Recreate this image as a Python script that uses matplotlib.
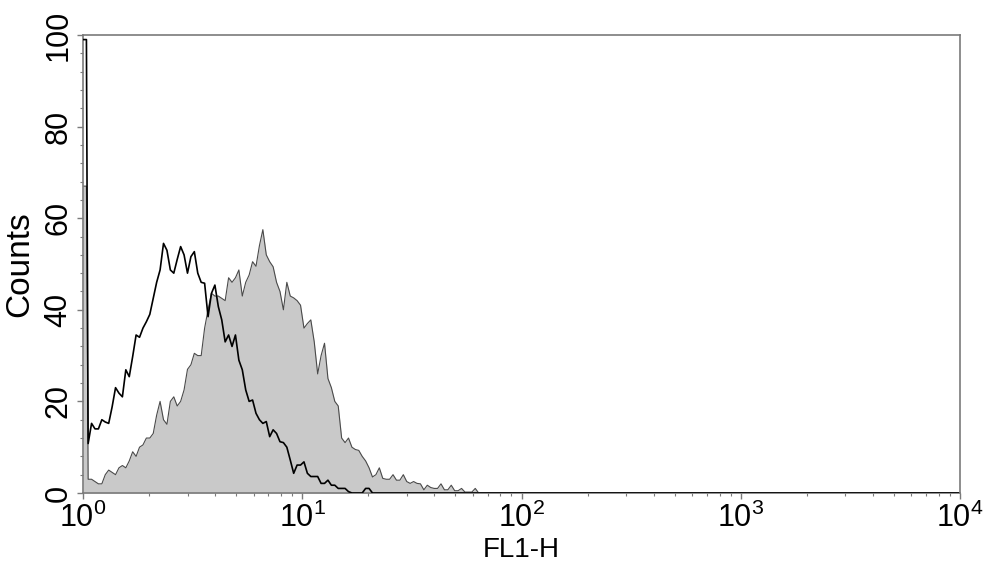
import numpy as np
import matplotlib
matplotlib.use("Agg")
import matplotlib.pyplot as plt
from matplotlib.ticker import FixedLocator, MultipleLocator, LogLocator, NullFormatter

plt.rcParams['font.family'] = ['Liberation Sans', 'DejaVu Sans']
plt.rcParams['mathtext.fontset'] = 'custom'
plt.rcParams['mathtext.rm'] = 'Liberation Sans'
plt.rcParams['mathtext.it'] = 'Liberation Sans'
plt.rcParams['mathtext.bf'] = 'Liberation Sans'

# 256 log channels over 4 decades (FL1-H 10^0 .. 10^4)
n_channels = 256
x_min, x_max = 1, 10000

# Stained sample (gray filled histogram), counts per channel starting at channel 0
stained_counts = [
    67, 3, 3, 2.5, 2, 2, 4, 5, 4.5, 4,
    5.5, 6, 5.5, 7, 9, 8, 10, 10.5, 12, 12,
    13, 17, 20, 16, 15, 20, 21, 19, 20, 22.5,
    27, 28, 30.5, 30, 30, 36, 40, 43.6, 43, 43,
    42.5, 42, 47, 46, 47, 48.7, 43, 46, 47.6, 50.5,
    49.5, 54, 57.5, 52, 50.5, 49.4, 46, 44, 40, 46,
    43, 42.6, 42, 41, 36, 37, 37.8, 33, 26, 30,
    32.7, 25, 23, 20, 19, 12, 11, 12, 10, 9.5,
    9.3, 8, 7, 5.5, 3.5, 4, 5.5, 3.2, 3, 3,
    4, 2.8, 2.8, 4, 2.5, 2.1, 2.5, 2.1, 2, 0.7,
    1.7, 1.2, 1, 1, 2, 0.7, 0.7, 1.7, 0.5, 0.5,
    1, 0.2, 0.2, 0.2, 1, 0,
]

# Control sample (black open histogram)
control_counts = [
    99, 10.8, 15.2, 14, 14, 16, 15.5, 15.2, 18.8, 23,
    21.8, 21, 26.9, 25.4, 29.8, 34.5, 34, 36, 37.4, 39,
    42.5, 46, 48.7, 54.5, 53, 48.7, 48, 51, 53.8, 52,
    48, 51.6, 52.7, 48, 46, 45.8, 38.5, 43.6, 45.4, 40.7,
    37.8, 33, 34.5, 32, 34.5, 29, 26.9, 22.5, 20, 20.3,
    17.4, 16, 15.2, 15.6, 12.3, 13.8, 13, 11.2, 11, 10,
    7.2, 4.3, 6.1, 6.1, 6.8, 4.3, 3.6, 3.6, 3.6, 2.1,
    2.1, 2.8, 1.7, 1.7, 1, 1, 1, 0.3, 0, 0,
    0, 0, 1, 1, 0,
]

y_ticks = [0, 20, 40, 60, 80, 100]
x_ticks = [1, 10, 100, 1000, 10000]
x_tick_labels = ['$10^{0}$', '$10^{1}$', '$10^{2}$', '$10^{3}$', '$10^{4}$']
x_label = 'FL1-H'
y_label = 'Counts'

edges = np.logspace(np.log10(x_min), np.log10(x_max), n_channels + 1)
centers = np.sqrt(edges[:-1] * edges[1:])
stained = np.zeros(n_channels)
stained[:len(stained_counts)] = stained_counts
control = np.zeros(n_channels)
control[:len(control_counts)] = control_counts

# channel 0 drawn as a vertical spike at its right edge
xs = np.concatenate([[edges[0], edges[1]], centers[1:]])
ys_st = np.concatenate([[stained[0], stained[0]], stained[1:]])
ys_ct = np.concatenate([[control[0], control[0]], control[1:]])

fig = plt.figure(figsize=(9.9, 5.78), dpi=100)
ax = fig.add_axes([83/990, 1 - 493/578, (960-83)/990, (493-35)/578])

ax.fill_between(xs, 0, ys_st, color='#c9c9c9', lw=0, zorder=1)
ax.plot(xs, ys_st, color='#4a4a4a', lw=0.8, zorder=2)
ax.plot(xs, ys_ct, color='black', lw=1.2, zorder=3)

ax.set_xscale('log')
ax.set_xlim(x_min, x_max)
ax.set_ylim(0, 100)

ax.xaxis.set_major_locator(FixedLocator(x_ticks))
ax.set_xticklabels(x_tick_labels)
ax.xaxis.set_minor_locator(LogLocator(base=10, subs=np.arange(2, 10)))
ax.xaxis.set_minor_formatter(NullFormatter())
ax.yaxis.set_major_locator(FixedLocator(y_ticks))
ax.yaxis.set_minor_locator(MultipleLocator(4))

for s in ax.spines.values():
    s.set_color('#7a7a7a')
    s.set_linewidth(1.2)

ax.tick_params(axis='both', which='major', direction='out', length=4, width=1,
               color='#7a7a7a', labelsize=22, pad=3)
ax.tick_params(axis='both', which='minor', direction='out', length=2.5, width=0.8,
               color='#7a7a7a')
ax.tick_params(axis='y', labelrotation=90)
for lab in ax.get_yticklabels():
    lab.set_va('center')

ax.set_xlabel(x_label, fontsize=20, labelpad=2)
ax.set_ylabel(y_label, fontsize=24, labelpad=6)

fig.savefig('out.png', dpi=100, facecolor='white')
